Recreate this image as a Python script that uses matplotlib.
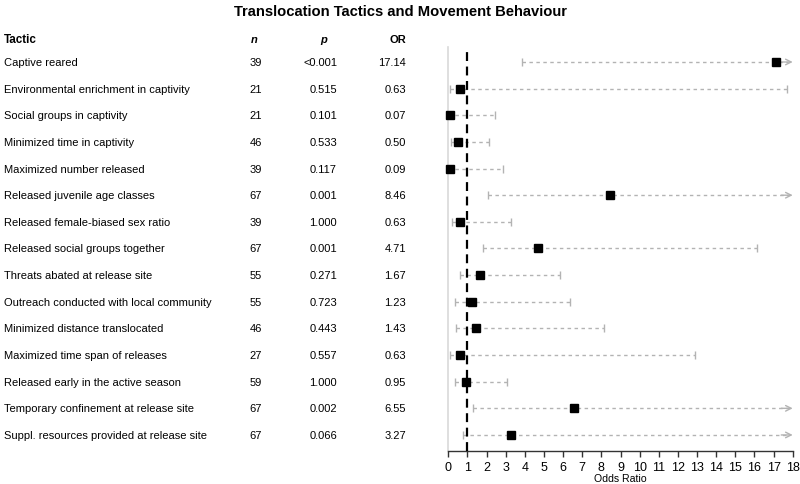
import matplotlib.pyplot as plt
import matplotlib.transforms as mtransforms
import numpy as np

plt.rcParams['font.family'] = ['Liberation Sans', 'DejaVu Sans']

tactics = [
    'Captive reared',
    'Environmental enrichment in captivity',
    'Social groups in captivity',
    'Minimized time in captivity',
    'Maximized number released',
    'Released juvenile age classes',
    'Released female-biased sex ratio',
    'Released social groups together',
    'Threats abated at release site',
    'Outreach conducted with local community',
    'Minimized distance translocated',
    'Maximized time span of releases',
    'Released early in the active season',
    'Temporary confinement at release site',
    'Suppl. resources provided at release site',
]
n_vals = [39, 21, 21, 46, 39, 67, 39, 67, 55, 55, 46, 27, 59, 67, 67]
p_labels = ['<0.001', '0.515', '0.101', '0.533', '0.117', '0.001', '1.000', '0.001',
            '0.271', '0.723', '0.443', '0.557', '1.000', '0.002', '0.066']
odds = [17.14, 0.63, 0.07, 0.50, 0.09, 8.46, 0.63, 4.71,
        1.67, 1.23, 1.43, 0.63, 0.95, 6.55, 3.27]
# inf = upper limit runs off the scale (drawn as arrow)
ci_low = [3.84, 0.09, 0.0, 0.14, 0.0, 2.06, 0.18, 1.83,
          0.61, 0.35, 0.40, 0.09, 0.35, 1.27, 0.78]
ci_high = [np.inf, 17.69, 2.46, 2.11, 2.88, np.inf, 3.28, 16.15,
           5.86, 6.38, 8.16, 12.9, 3.07, np.inf, np.inf]
x_max = 18

W, H = 800, 485
fig = plt.figure(figsize=(8, 4.85), dpi=100)

# forest panel placed in pixel terms
left_px, right_px, top_px, bot_px = 448.3, 792.7, 48, 452
ax = fig.add_axes([left_px / W, 1 - bot_px / H, (right_px - left_px) / W, (bot_px - top_px) / H])

row0_px, row_step = 63, 26.64
ax.set_xlim(0, x_max)
ax.set_ylim((bot_px - row0_px) / row_step, (top_px - row0_px) / row_step)

gray = '#b3b3b3'
rows = np.arange(len(tactics))
for y, lo, hi, orv in zip(rows, ci_low, ci_high, odds):
    if np.isfinite(hi):
        ax.plot([lo, hi], [y, y], color=gray, lw=1, ls=(0, (2.5, 2.5)), zorder=2)
        ax.plot([hi], [y], marker='|', color=gray, ms=6, mew=1, zorder=2)
    else:
        ax.plot([lo, x_max - 0.25], [y, y], color=gray, lw=1, ls=(0, (2.5, 2.5)), zorder=2)
        ax.annotate('', xy=(x_max, y), xytext=(x_max - 0.6, y),
                    arrowprops=dict(arrowstyle='->', color=gray, lw=1,
                                    shrinkA=0, shrinkB=0, mutation_scale=10),
                    annotation_clip=False, zorder=2)
    if lo > 0.02:
        ax.plot([lo], [y], marker='|', color=gray, ms=6, mew=1, zorder=2)
    ax.plot([orv], [y], marker='s', color='black', ms=6, zorder=4, clip_on=False)

ax.axvline(1, color='black', lw=1.6, ls=(0, (4, 2.5)), zorder=3)

for s in ['top', 'right']:
    ax.spines[s].set_visible(False)
ax.spines['left'].set_color('#d9d9d9')
ax.spines['left'].set_linewidth(1.2)
ax.spines['bottom'].set_color('#333333')
ax.spines['bottom'].set_linewidth(1)
ax.set_yticks([])
ax.set_xticks(np.arange(0, x_max + 1, 1))
ax.tick_params(axis='x', direction='out', length=4, width=1, color='#333333',
               labelsize=9, pad=3)
ax.set_xlabel('Odds Ratio', fontsize=7.6, labelpad=0)

# table columns: x in figure pixels, y in data rows
trans = mtransforms.blended_transform_factory(fig.transFigure, ax.transData)
fs = 8
head_y = (40 - row0_px) / row_step
ax.text(4 / W, head_y, 'Tactic', transform=trans, ha='left', va='center',
        fontsize=fs + 0.4, fontweight='bold', clip_on=False)
ax.text(254 / W, head_y, 'n', transform=trans, ha='center', va='center',
        fontsize=fs, fontweight='bold', style='italic', clip_on=False)
ax.text(323.5 / W, head_y, 'p', transform=trans, ha='center', va='center',
        fontsize=fs, fontweight='bold', style='italic', clip_on=False)
ax.text(406 / W, head_y, 'OR', transform=trans, ha='right', va='center',
        fontsize=fs, fontweight='bold', clip_on=False)

for y, name, nv, pv, orv in zip(rows, tactics, n_vals, p_labels, odds):
    ax.text(4 / W, y, name, transform=trans, ha='left', va='center', fontsize=fs, clip_on=False)
    ax.text(256 / W, y, str(nv), transform=trans, ha='center', va='center', fontsize=fs, clip_on=False)
    ax.text(337 / W, y, pv, transform=trans, ha='right', va='center', fontsize=fs, clip_on=False)
    ax.text(406 / W, y, f'{orv:.2f}', transform=trans, ha='right', va='center', fontsize=fs, clip_on=False)

fig.text(0.5, 1 - 12 / H, 'Translocation Tactics and Movement Behaviour', ha='center',
         va='center', fontsize=10.6, fontweight='bold')

fig.savefig('out.png', dpi=100)
